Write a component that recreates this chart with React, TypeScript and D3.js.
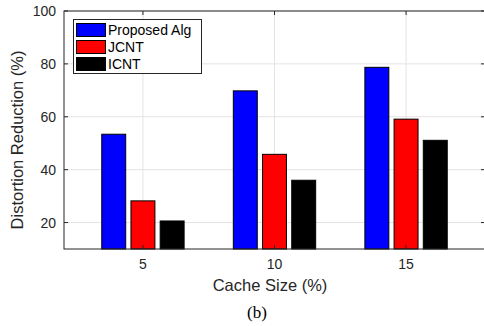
import React from 'react';
import * as d3 from 'd3';

const cacheSizes = [5, 10, 15];
const seriesNames = ['Proposed Alg', 'JCNT', 'ICNT'];
const seriesColors = ['#0000ff', '#ff0000', '#000000'];
const proposedAlg = [53.4, 69.8, 78.7];
const jcnt = [28.2, 45.8, 59.1];
const icnt = [20.6, 36.0, 51.1];
const yTicks = [20, 40, 60, 80, 100];

const W = 484;
const H = 326;
const margin = { left: 64, top: 11, right: 485, bottom: 249 };
const font = 'Liberation Sans, Arial, Helvetica, sans-serif';
const axisColor = '#262626';

export default function App() {
  const series = [proposedAlg, jcnt, icnt];

  const x = d3.scaleLinear().domain([2, 18]).range([margin.left, margin.right]);
  const y = d3.scaleLinear().domain([10, 100]).range([margin.bottom, margin.top]);

  // bar pitch and width in data units (MATLAB grouped bar look)
  const pitch = 1.11;
  const barW = 0.91;

  return (
    <svg
      width={W}
      height={H}
      style={{ position: 'absolute', left: 0, top: 0, background: '#fff' }}
    >
      <rect x={0} y={0} width={W} height={H} fill="#fff" />

      {/* grid */}
      {yTicks.map((t) => (
        <line key={'gy' + t} x1={margin.left} x2={margin.right} y1={y(t)} y2={y(t)} stroke="#e3e3e3" strokeWidth={1} />
      ))}
      {cacheSizes.map((c) => (
        <line key={'gx' + c} x1={x(c)} x2={x(c)} y1={margin.top} y2={margin.bottom} stroke="#e3e3e3" strokeWidth={1} />
      ))}

      {/* bars */}
      {series.map((vals, si) =>
        vals.map((v, ci) => {
          const center = cacheSizes[ci] + (si - 1) * pitch;
          const x0 = x(center - barW / 2);
          const x1 = x(center + barW / 2);
          return (
            <rect
              key={si + '-' + ci}
              x={x0}
              y={y(v)}
              width={x1 - x0}
              height={y(10) - y(v)}
              fill={seriesColors[si]}
              stroke="#000"
              strokeWidth={1}
            />
          );
        })
      )}

      {/* axes box */}
      <rect
        x={margin.left}
        y={margin.top}
        width={margin.right - margin.left}
        height={margin.bottom - margin.top}
        fill="none"
        stroke={axisColor}
        strokeWidth={1}
      />
      {yTicks.map((t) => (
        <g key={'ty' + t}>
          <line x1={margin.left} x2={margin.left + 4} y1={y(t)} y2={y(t)} stroke={axisColor} />
          <line x1={margin.right - 4} x2={margin.right} y1={y(t)} y2={y(t)} stroke={axisColor} />
          <text x={margin.left - 8} y={y(t) + 5} textAnchor="end" fontFamily={font} fontSize={14} fill={axisColor}>
            {t}
          </text>
        </g>
      ))}
      {cacheSizes.map((c) => (
        <g key={'tx' + c}>
          <line x1={x(c)} x2={x(c)} y1={margin.bottom} y2={margin.bottom - 4} stroke={axisColor} />
          <line x1={x(c)} x2={x(c)} y1={margin.top} y2={margin.top + 4} stroke={axisColor} />
          <text x={x(c)} y={269} textAnchor="middle" fontFamily={font} fontSize={14} fill={axisColor}>
            {c}
          </text>
        </g>
      ))}

      {/* axis labels */}
      <text
        transform={`translate(23,140) rotate(-90)`}
        textAnchor="middle"
        fontFamily={font}
        fontSize={16.5}
        fill={axisColor}
      >
        Distortion Reduction (%)
      </text>
      <text x={270} y={291} textAnchor="middle" fontFamily={font} fontSize={16.5} fill={axisColor}>
        Cache Size (%)
      </text>
      <text x={257} y={318} textAnchor="middle" fontFamily="Liberation Serif, Times New Roman, serif" fontSize={17} fill="#000">
        (b)
      </text>

      {/* legend */}
      <rect x={73.5} y={19.5} width={128} height={54} fill="#fff" stroke={axisColor} strokeWidth={1} />
      {seriesNames.map((n, i) => (
        <g key={n}>
          <rect x={76.5} y={23.5 + i * 17} width={29} height={13} fill={seriesColors[i]} stroke="#000" strokeWidth={1} />
          <text x={108} y={35 + i * 17} fontFamily={font} fontSize={14} fill="#000">
            {n}
          </text>
        </g>
      ))}
    </svg>
  );
}
